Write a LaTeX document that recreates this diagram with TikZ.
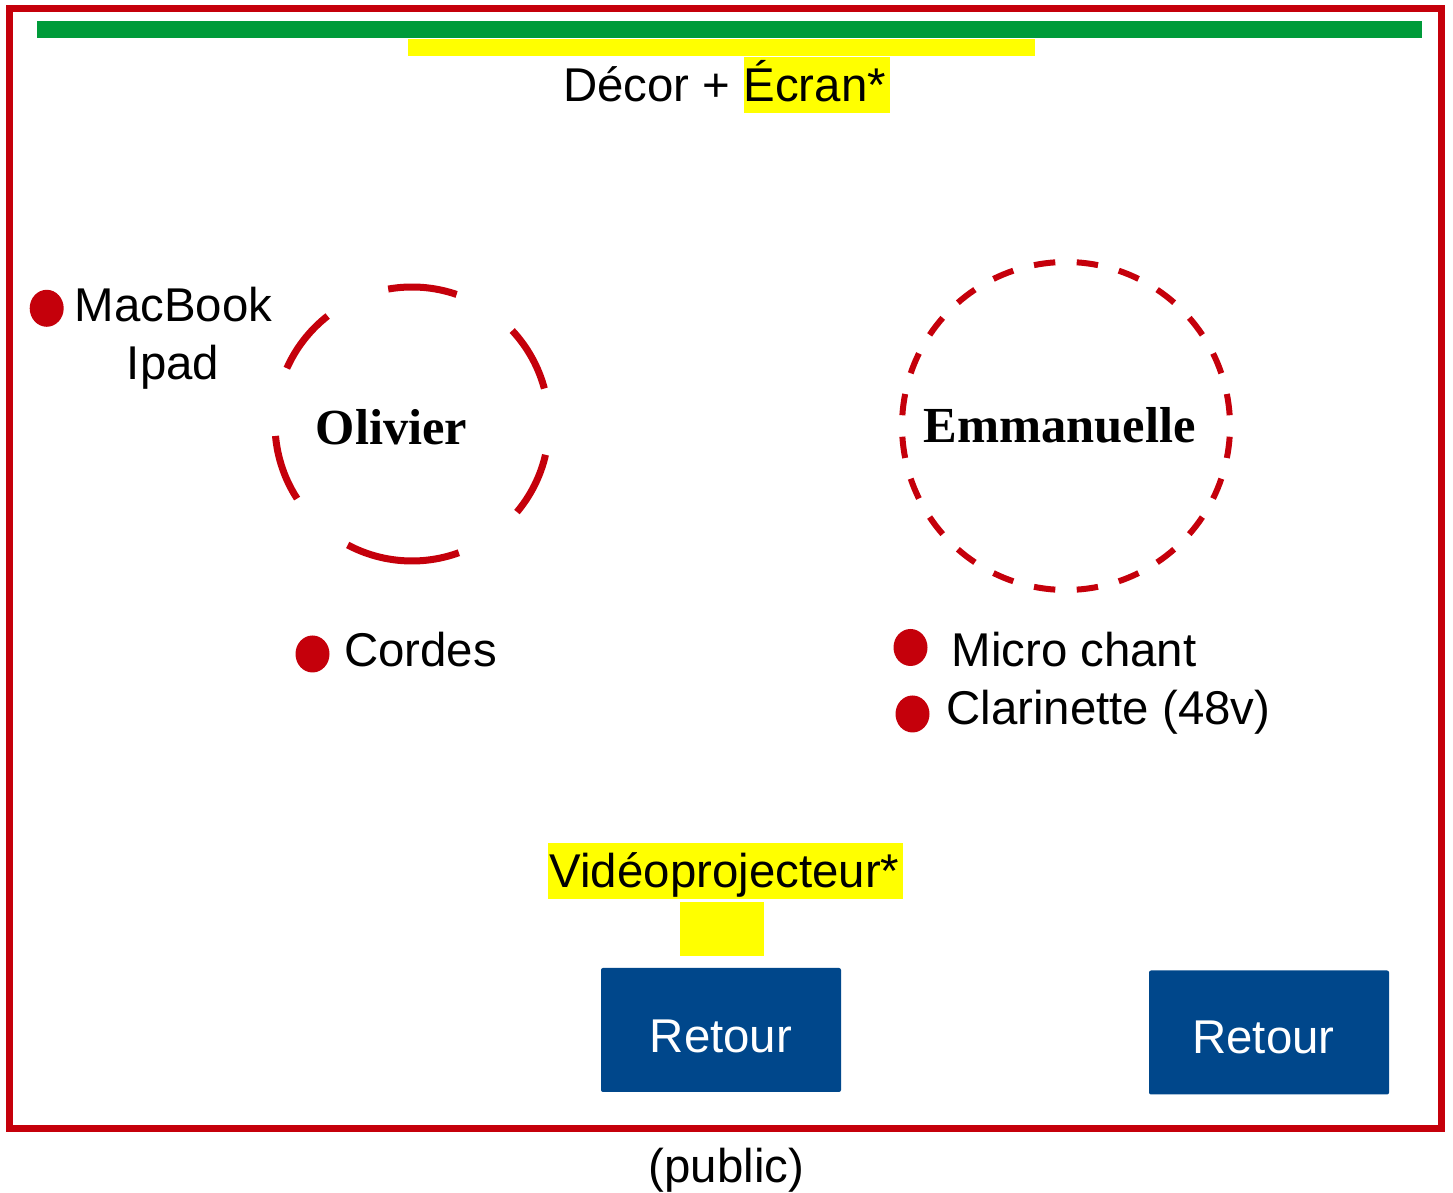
\documentclass[tikz,border=0pt]{standalone}
\usepackage{fontspec}
\setmainfont{Liberation Sans}
\newfontfamily\namefont{Liberation Serif}
\usetikzlibrary{shapes.geometric}
\definecolor{stagered}{RGB}{197,0,11}
\definecolor{stagegreen}{RGB}{0,155,58}
\definecolor{hlyellow}{RGB}{255,255,0}
\definecolor{retblue}{RGB}{0,71,139}
\begin{document}
\begin{tikzpicture}[x=1pt,y=1pt,
  lbl/.style={inner sep=0pt, anchor=base, font=\fontsize{47.4}{53}\selectfont},
  namelbl/.style={inner sep=0pt, anchor=base, font={\namefont\bfseries\fontsize{50.5}{56}\selectfont}},
  dot/.style={ellipse, fill=stagered, inner sep=0pt, minimum width=34pt, minimum height=37pt},
  retourbox/.style={fill=retblue, rounded corners=2pt, minimum width=240pt, minimum height=124pt,
    inner sep=0pt, text=white, font=\fontsize{47.4}{53}\selectfont, text height=46pt, text depth=0pt},
  zone/.style={circle, inner sep=0pt, minimum size=270pt},
  hl/.style={fill=hlyellow}
]
\useasboundingbox (0,0) rectangle (1453,1193);
\fill[white] (0,0) rectangle (1453,1193);

% stage frame
\draw[stagered, line width=7pt] (9,64) rectangle (1441,1184);

% decor bars
\fill[stagegreen] (37,1155.3) rectangle (1422,1172.3);
\fill[hl] (408,1137.3) rectangle (1035,1154);
\fill[hl] (744,1080.3) rectangle (890,1136.3);
\node[lbl] (decor) at (724.5,1091.5) {Décor + Écran*};

% Olivier
\node[zone] (oli) at (412,769) {};
\foreach \s/\e in {71/100,128/156,15/43,185/213,-40/-13,242/290}
  \draw[stagered, line width=7pt] (oli.center) ++(\s:137) arc[start angle=\s, end angle=\e, radius=137];
\node[namelbl] (olitxt) at (391.5,748) {Olivier};

% Emmanuelle
\node[zone, minimum size=328pt] (emm) at (1066,767) {};
\foreach \a in {0,15,...,345}
  \draw[stagered, line width=6pt] (emm.center) ++(\a+3.75:164) arc[start angle=\a+3.75, end angle=\a+11.25, radius=164];
\node[namelbl] (emmtxt) at (1059.5,750) {Emmanuelle};

% MacBook / Ipad
\node[dot] (dmac) at (46.7,884.7) {};
\node[lbl] (mac) at (173.5,871) {MacBook};
\node[lbl] (ipad) at (173,813) {Ipad};

% Cordes
\node[dot] (dcordes) at (312.5,539) {};
\node[lbl] (cordes) at (420.5,526) {Cordes};

% Micro chant / Clarinette
\node[dot] (dmicro) at (910.5,545.5) {};
\node[lbl] (micro) at (1074,526.3) {Micro chant};
\node[dot] (dclar) at (912.5,479) {};
\node[lbl] (clar) at (1108.3,468) {Clarinette (48v)};

% Videoprojecteur
\fill[hl] (548,294) rectangle (903,350);
\node[lbl] (video) at (724.5,305) {Vidéoprojecteur*};
\fill[hl] (679.5,237.3) rectangle (764,291.3);

% Retours
\node[retourbox] (ret1) at (721,163) {Retour};
\node[retourbox, text height=42pt] (ret2) at (1269,160.5) {\hspace*{-11pt}Retour};

% public
\node[lbl] (public) at (726.5,10) {(public)};
\end{tikzpicture}
\end{document}
